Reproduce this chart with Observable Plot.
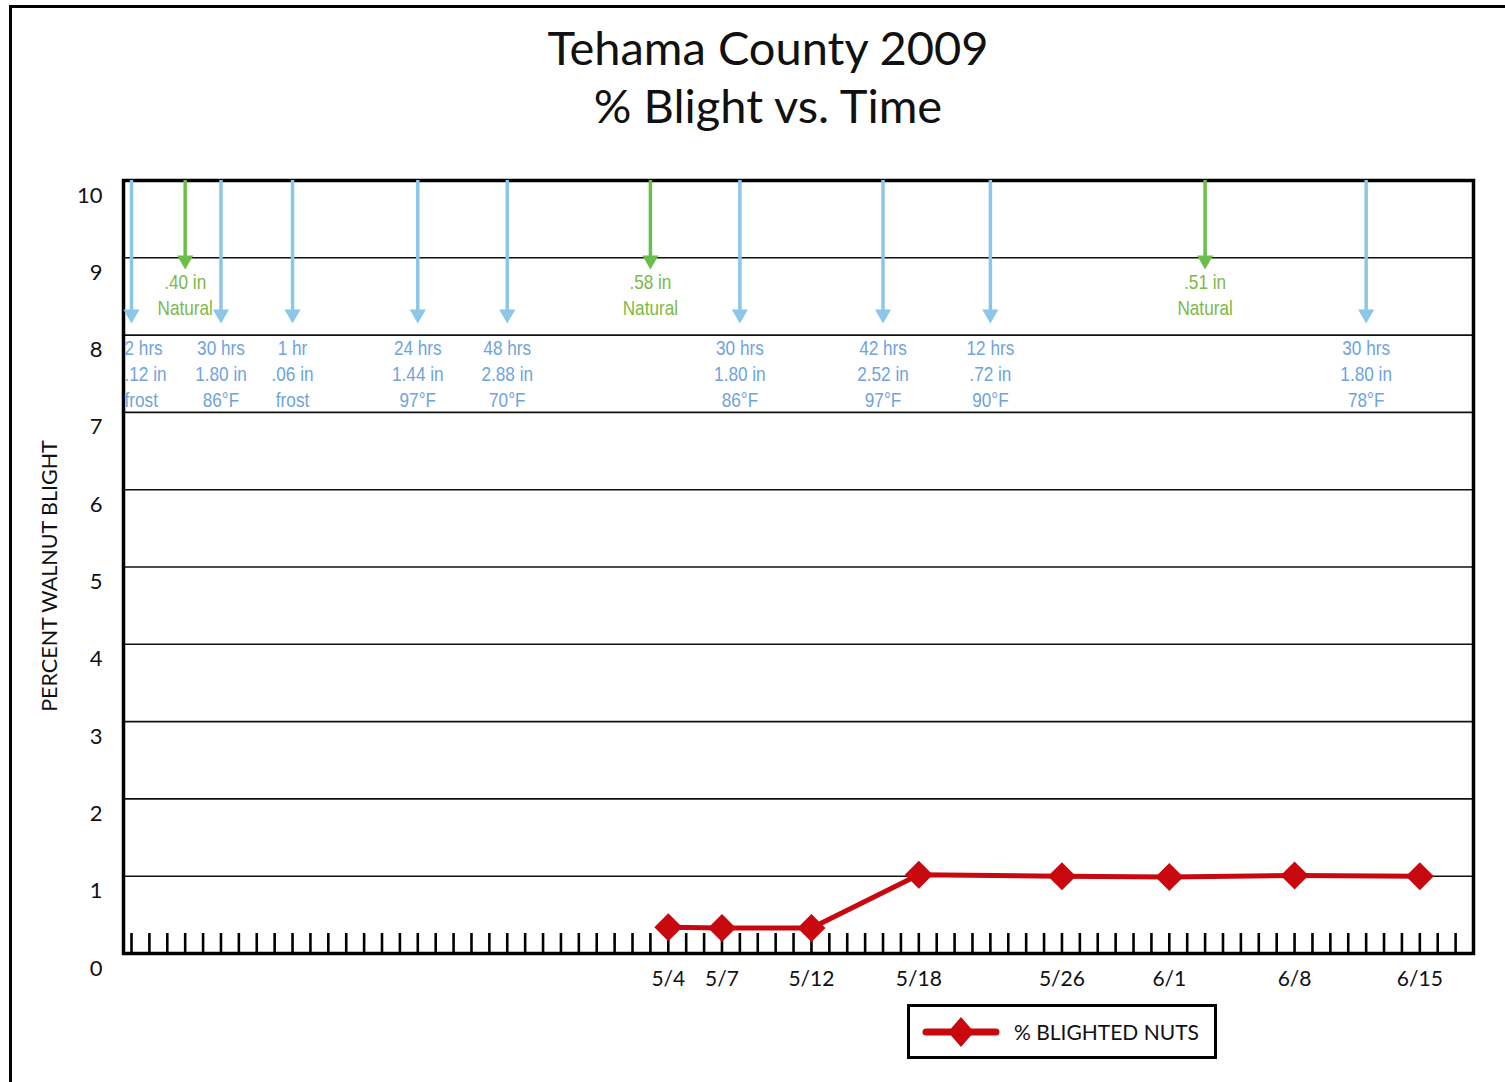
<!DOCTYPE html>
<html><head><meta charset="utf-8">
<script src="https://cdn.jsdelivr.net/npm/d3@7"></script>
<script src="https://cdn.jsdelivr.net/npm/@observablehq/plot@0.6"></script>
<style>
body{margin:0;background:#fff;}
#wrap{position:relative;width:1505px;height:1082px;overflow:hidden;background:#fff;}
#border{position:absolute;left:9px;top:5px;width:1600px;height:1200px;border-left:3px solid #000;border-top:3px solid #000;}
#title{position:absolute;left:0;top:18px;width:1536px;text-align:center;font-family:Lato,sans-serif;font-size:47px;line-height:58px;color:#111;}
#chart{position:absolute;left:0;top:150px;}
#legend{position:absolute;left:907px;top:1004px;width:304px;height:49px;border:3px solid #000;background:#fff;display:flex;align-items:center;font-family:Lato,sans-serif;font-size:21px;color:#111;}
#legend svg{margin-left:12px;margin-right:14px;}
</style></head>
<body>
<div id="wrap">
<div id="border"></div>
<div id="title">Tehama County 2009<br>% Blight vs. Time</div>
<div id="chart"></div>
<div id="legend"><svg width="78" height="36"><line x1="4" x2="74" y1="18" y2="18" stroke="#C8070F" stroke-width="7" stroke-linecap="round"/><path d="M39,3 L52,18 L39,33 L26,18 Z" fill="#C8070F"/></svg><span>% BLIGHTED NUTS</span></div>
</div>
<script>
// ---- data ----
const sampleDates = ["2009-05-04","2009-05-07","2009-05-12","2009-05-18","2009-05-26","2009-06-01","2009-06-08","2009-06-15"];
const blightPct = [0.34, 0.33, 0.33, 1.02, 1.0, 0.99, 1.01, 1.0];
const eventDates = ["2009-04-04","2009-04-07","2009-04-09","2009-04-13","2009-04-20","2009-04-25","2009-05-03","2009-05-08","2009-05-16","2009-05-22","2009-06-03","2009-06-12"];
const eventTypes = ["wet","natural","wet","wet","wet","wet","natural","wet","wet","wet","natural","wet"];
const eventLabels = ["2 hrs\n.12 in\nfrost", ".40 in\nNatural", "30 hrs\n1.80 in\n86°F", "1 hr\n.06 in\nfrost", "24 hrs\n1.44 in\n97°F", "48 hrs\n2.88 in\n70°F", ".58 in\nNatural", "30 hrs\n1.80 in\n86°F", "42 hrs\n2.52 in\n97°F", "12 hrs\n.72 in\n90°F", ".51 in\nNatural", "30 hrs\n1.80 in\n78°F"];
const yTicks = [0,1,2,3,4,5,6,7,8,9,10];
const xStart = "2009-04-04", xEnd = "2009-06-18";

const parse = d3.utcParse("%Y-%m-%d");
const samples = sampleDates.map((d,i) => ({date: parse(d), pct: blightPct[i]}));
const events = eventDates.map((d,i) => ({date: parse(d), type: eventTypes[i], label: eventLabels[i], first: i === 0}));
const wet = events.filter(e => e.type === "wet");
const nat = events.filter(e => e.type === "natural");
const days = d3.utcDay.range(parse(xStart), d3.utcDay.offset(parse(xEnd), 1));

const BLUE = "#8CC6E8", BLUE_TXT = "#6FA3DC", GREEN = "#6CBE4A", GREEN_TXT = "#7CB845", RED = "#C8070F";
const TOP = 10, WET_TIP = 8.16, NAT_TIP = 8.86, HEAD = 0.11;
const labelFont = "'Liberation Sans', Arial, sans-serif";

const chart = Plot.plot({
  width: 1505, height: 850,
  marginLeft: 123, marginRight: 32, marginTop: 30, marginBottom: 47,
  style: {fontFamily: "Lato, sans-serif", color: "#111", background: "transparent"},
  x: {type: "utc", domain: [parse(xStart), parse(xEnd)], insetLeft: 8},
  y: {domain: [0, 10]},
  marks: [
    Plot.gridY(yTicks.slice(1, -1), {stroke: "#111", strokeOpacity: 1, strokeWidth: 1.6}),
    Plot.axisY(yTicks, {tickSize: 0, tickPadding: 21, dy: 15, fontSize: 22, tickFormat: d3.format("d"), label: null}),
    Plot.text(["PERCENT WALNUT BLIGHT"], {frameAnchor: "left", textAnchor: "middle", dx: -73, dy: 9, rotate: -90, fontSize: 21.5, fill: "#111"}),
    Plot.frame({stroke: "#000", strokeWidth: 3.5}),
    Plot.axisX(days, {tickSize: 20, dy: -20, strokeWidth: 2.6, stroke: "#000", tickFormat: () => "", label: null}),
    Plot.axisX(samples.map(d => d.date), {tickSize: 0, tickPadding: 18, fontSize: 21, tickFormat: d3.utcFormat("%-m/%-d"), label: null}),
    // blue wetness-event arrows
    Plot.ruleX(wet, {x: "date", y1: TOP, y2: WET_TIP + HEAD, stroke: BLUE, strokeWidth: 3.5}),
    Plot.dot(wet, {x: "date", y: WET_TIP + HEAD, symbol: "triangle", rotate: 180, r: 6, fill: BLUE}),
    // green natural-rain arrows
    Plot.ruleX(nat, {x: "date", y1: TOP, y2: NAT_TIP + HEAD, stroke: GREEN, strokeWidth: 3.5}),
    Plot.dot(nat, {x: "date", y: NAT_TIP + HEAD, symbol: "triangle", rotate: 180, r: 6, fill: GREEN}),
    Plot.text(wet.filter(d => !d.first), {x: "date", y: 7.51, text: "label", fill: BLUE_TXT, fontSize: 20, lineHeight: 1.3, fontFamily: labelFont, className: "narrow"}),
    Plot.text(wet.filter(d => d.first), {x: "date", y: 7.51, text: "label", fill: BLUE_TXT, fontSize: 20, lineHeight: 1.3, fontFamily: labelFont, textAnchor: "start", dx: -7, className: "narrow"}),
    Plot.text(nat, {x: "date", y: 8.54, text: "label", fill: GREEN_TXT, fontSize: 20, lineHeight: 1.3, fontFamily: labelFont, className: "narrow"}),
    // blight series
    Plot.line(samples, {x: "date", y: "pct", stroke: RED, strokeWidth: 5}),
    Plot.dot(samples, {x: "date", y: "pct", symbol: "diamond2", r: 12.6, fill: RED})
  ]
});
// condense the annotation text horizontally (narrow typeface look)
d3.select(chart).selectAll("g.narrow text").each(function() {
  const el = d3.select(this);
  const t = el.attr("transform");
  if (t) {
    el.attr("transform", t + " scale(0.86,1)");
  } else {
    const x = +el.attr("x") || 0, y = +el.attr("y") || 0;
    el.attr("x", null).attr("y", null).attr("transform", `translate(${x},${y}) scale(0.86,1)`);
  }
});
document.getElementById("chart").appendChild(chart);
</script>
</body></html>
